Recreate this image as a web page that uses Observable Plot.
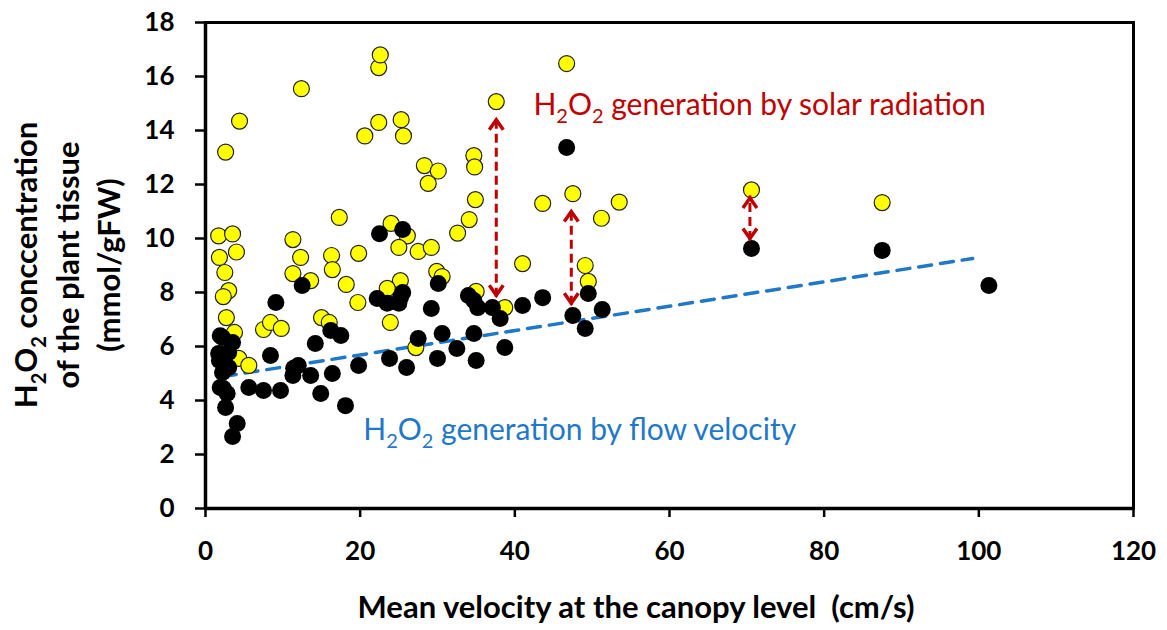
<!DOCTYPE html>
<html><head><meta charset="utf-8">
<script src="https://cdn.jsdelivr.net/npm/d3@7"></script>
<script src="https://cdn.jsdelivr.net/npm/@observablehq/plot@0.6"></script>
<style>body{margin:0;background:#fff;overflow:hidden}</style>
</head><body><div id="chart"></div>
<script>
// Series: H2O2 generation by solar radiation (yellow)
const solarX = [2.6,4.4,12.4,22.4,22.6,20.6,22.4,25.3,25.6,37.6,46.7,34.7,34.8,28.3,30.1,28.8,34.9,34.1,32.6,43.6,47.5,53.5,51.2,27.5,29.2,17.3,11.3,1.7,3.5,4.0,1.8,12.3,16.3,19.8,24.0,26.1,25.0,2.5,11.3,13.6,16.4,18.2,19.7,25.2,23.5,23.9,3.0,2.3,2.7,3.75,7.5,8.4,9.8,15.0,16.0,4.3,5.6,27.2,29.9,30.6,41.0,49.1,49.5,35.0,38.7,70.6,87.5];
const solarY = [13.2,14.35,15.55,16.33,16.8,13.8,14.3,14.4,13.8,15.07,16.48,13.07,12.65,12.7,12.5,12.04,11.44,10.7,10.2,11.3,11.66,11.35,10.75,9.52,9.67,10.78,9.96,10.1,10.17,9.5,9.3,9.3,9.37,9.45,10.56,10.1,9.67,8.74,8.7,8.44,8.85,8.3,7.63,8.44,8.15,6.89,8.07,7.85,7.07,6.52,6.63,6.89,6.67,7.07,6.89,5.56,5.3,5.96,8.78,8.59,9.07,9.0,8.41,8.04,7.44,11.8,11.33];
// Series: H2O2 generation by flow velocity (black)
const flowX = [46.7,22.5,25.5,12.5,9.1,22.2,23.5,25.2,25.0,2.2,3.5,1.7,3.0,1.8,3.0,2.2,8.4,14.2,16.2,17.5,2.3,2.8,2.6,5.6,7.5,9.7,11.3,12.0,13.6,14.9,16.4,18.1,19.8,23.8,26.0,4.1,3.5,11.4,25.5,30.1,29.2,34.0,35.2,37.1,38.1,41.0,43.6,47.5,49.5,51.3,49.1,30.6,34.7,32.5,30.0,35.0,38.7,27.5,70.6,87.5,101.3,34.7,1.9,1.9];
const flowY = [13.37,10.18,10.33,8.26,7.63,7.78,7.6,7.81,7.6,6.33,6.15,5.74,5.78,5.48,5.22,5.04,5.67,6.11,6.59,6.41,4.44,4.26,3.74,4.48,4.37,4.37,4.93,5.3,4.93,4.26,5.0,3.81,5.3,5.56,5.22,3.15,2.67,5.19,8.0,8.33,7.41,7.89,7.44,7.44,7.04,7.52,7.81,7.15,7.96,7.37,6.67,6.48,6.48,5.93,5.56,5.48,5.96,6.3,9.63,9.56,8.26,7.7,6.4,4.48];
// Trend line of the flow series
const trendX = [2.3, 99.2];
const trendY = [4.89, 9.26];
// Double arrows (solar minus flow)
const arrowX = [37.6, 47.3, 70.4];
const arrowLow = [7.9, 7.6, 10.0];
const arrowHigh = [14.4, 11.0, 11.5];
// Ticks
const xTicks = [0, 20, 40, 60, 80, 100, 120];
const yTicks = [0, 2, 4, 6, 8, 10, 12, 14, 16, 18];
// Annotations
const solarNote = {x: 42.4, y: 14.93, text: "H2O2 generation by solar radiation"};
const flowNote = {x: 20.4, y: 2.89, text: "H2O2 generation by flow velocity"};
const xTitle = "Mean velocity at the canopy level  (cm/s)";
const yTitle = ["H2O2 conccentration", "of the plant tissue", "(mmol/gFW)"];

const RED = "#C00000", BLUE = "#1F78C8";
const solar = solarX.map((x, i) => ({x, y: solarY[i]}));
const flow = flowX.map((x, i) => ({x, y: flowY[i]}));
const trend = trendX.map((x, i) => ({x, y: trendY[i]}));
const arrows = arrowX.map((x, i) => ({x, lo: arrowLow[i], hi: arrowHigh[i]}));

// chevron arrowheads with the tip at the symbol's origin
const chevronUp = {draw(ctx) { ctx.moveTo(-7, 10); ctx.lineTo(0, 0); ctx.lineTo(7, 10); }};
const chevronDown = {draw(ctx) { ctx.moveTo(-7, -10); ctx.lineTo(0, 0); ctx.lineTo(7, -10); }};

const chart = Plot.plot({
  width: 1167, height: 630,
  marginLeft: 205, marginRight: 34, marginTop: 22, marginBottom: 122,
  style: {fontFamily: "Lato, 'Open Sans', sans-serif", background: "#fff", overflow: "visible"},
  x: {domain: [0, 120]},
  y: {domain: [0, 18]},
  marks: [
    Plot.frame({stroke: "#000", strokeWidth: 3}),
    Plot.ruleX([0], {stroke: "#000", strokeWidth: 3.5}),
    Plot.ruleY([0], {stroke: "#000", strokeWidth: 3.5}),
    Plot.axisX({ticks: xTicks, tickSize: 9, tickPadding: 24, strokeWidth: 2.5, fontSize: 26, fontWeight: "bold", label: null, tickFormat: d => d}),
    Plot.axisY({ticks: yTicks, tickSize: 10, tickPadding: 21, strokeWidth: 2.5, fontSize: 26, fontWeight: "bold", label: null, tickFormat: d => d}),
    Plot.line(trend, {x: "x", y: "y", stroke: BLUE, strokeWidth: 3.5, strokeDasharray: "13,9"}),
    Plot.dot(solar, {x: "x", y: "y", r: 8, fill: "#FFFF00", stroke: "#222", strokeWidth: 1.2}),
    Plot.dot(flow, {x: "x", y: "y", r: 8.5, fill: "#000"}),
    Plot.ruleX(arrows, {x: "x", y1: "lo", y2: "hi", insetTop: 2, insetBottom: 2, stroke: RED, strokeWidth: 3, strokeDasharray: "9,5"}),
    Plot.dot(arrows, {x: "x", y: "hi", symbol: chevronUp, r: 8, fill: "none", stroke: RED, strokeWidth: 3.5, strokeLinejoin: "miter", strokeLinecap: "butt"}),
    Plot.dot(arrows, {x: "x", y: "lo", symbol: chevronDown, r: 8, fill: "none", stroke: RED, strokeWidth: 3.5, strokeLinejoin: "miter", strokeLinecap: "butt"}),
    Plot.text([solarNote], {x: "x", y: "y", text: "text", textAnchor: "start", fill: RED, fontSize: 30, className: "sub-note"}),
    Plot.text([flowNote], {x: "x", y: "y", text: "text", textAnchor: "start", fill: BLUE, fontSize: 30, className: "sub-note"})
  ]
});
document.getElementById("chart").append(chart);

function subscriptH2O2(el, fs) {
  const t = el.textContent;
  const rest = t.replace(/^H2O2/, "");
  el.textContent = "";
  const sel = d3.select(el);
  const sub = Math.round(fs * 0.65);
  const shift = fs * 0.28;
  sel.append("tspan").text("H");
  sel.append("tspan").attr("dy", shift).attr("font-size", sub).text("2");
  sel.append("tspan").attr("dy", -shift).text("O");
  sel.append("tspan").attr("dy", shift).attr("font-size", sub).text("2");
  sel.append("tspan").attr("dy", -shift).text(rest);
}
chart.querySelectorAll(".sub-note text").forEach(el => subscriptH2O2(el, 30));

const svg = d3.select(chart);
svg.append("text").attr("x", 636).attr("y", 618)
  .attr("text-anchor", "middle").attr("font-size", 31).attr("font-weight", "bold")
  .attr("fill", "#000").text(xTitle);
const yx = [37, 79, 120];
yTitle.forEach((line, i) => {
  const t = svg.append("text").attr("transform", `translate(${yx[i]},265) rotate(-90)`)
    .attr("text-anchor", "middle").attr("font-size", 31).attr("font-weight", "bold").attr("fill", "#000")
    .text(line);
  if (i === 0) subscriptH2O2(t.node(), 31);
});
</script></body></html>
